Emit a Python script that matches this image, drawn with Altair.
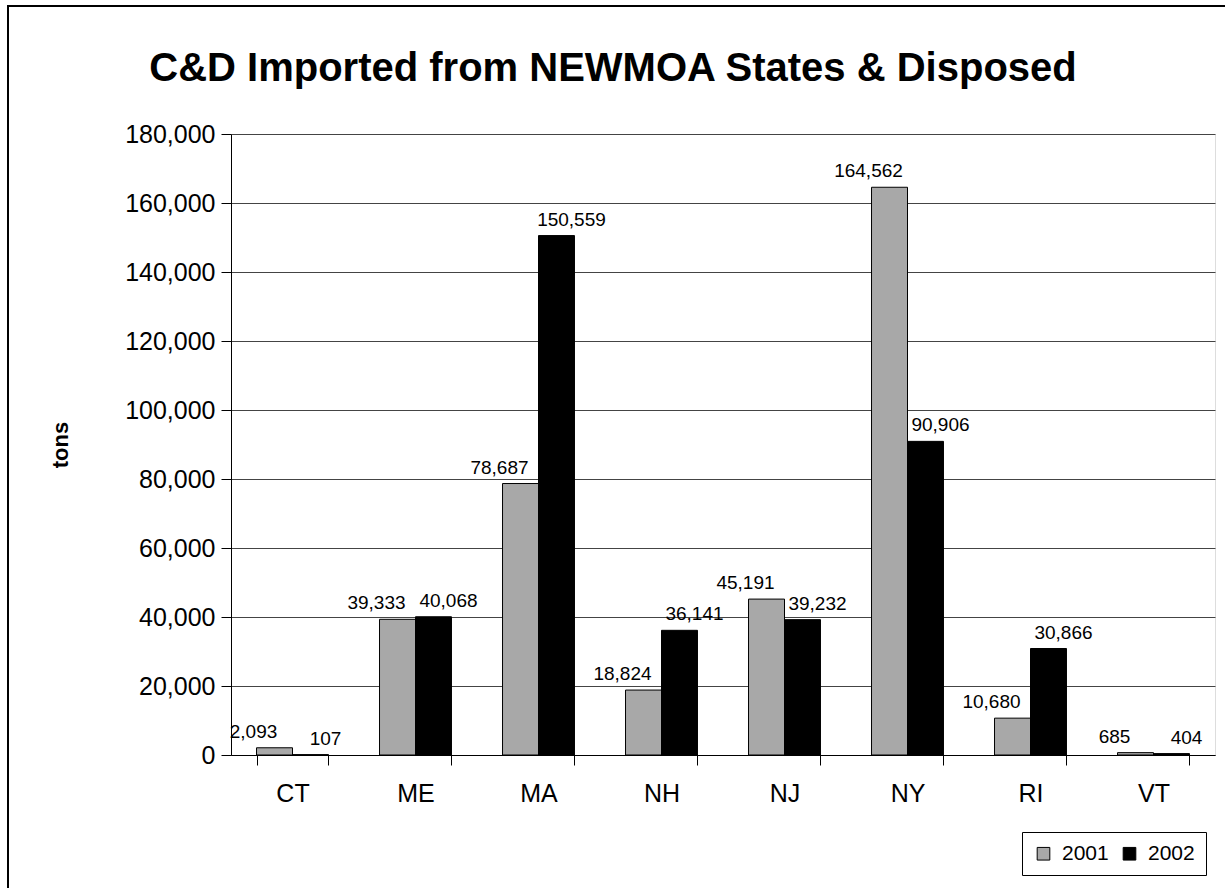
import altair as alt
import pandas as pd

# Construction & demolition debris imported from NEWMOA states and disposed (tons)
states = ["CT", "ME", "MA", "NH", "NJ", "NY", "RI", "VT"]
tons_2001 = [2093, 39333, 78687, 18824, 45191, 164562, 10680, 685]
tons_2002 = [107, 40068, 150559, 36141, 39232, 90906, 30866, 404]
years = ["2001", "2002"]
y_ticks = [0, 20000, 40000, 60000, 80000, 100000, 120000, 140000, 160000, 180000]

rows = []
for s, a, b in zip(states, tons_2001, tons_2002):
    rows.append({"state": s, "year": "2001", "tons": a})
    rows.append({"state": s, "year": "2002", "tons": b})
df = pd.DataFrame(rows)

FONT = "Liberation Sans"
W, H = 984, 621

x_enc = alt.X(
    "state:N",
    sort=states,
    scale=alt.Scale(paddingInner=0.415, paddingOuter=0.2075),
    axis=alt.Axis(
        title=None, labelAngle=0, labelFont=FONT, labelFontSize=25,
        labelColor="black", labelPadding=16, tickBand="extent", tickSize=10,
        tickColor="black", domainColor="black", grid=False,
    ),
)
xo_enc = alt.XOffset("year:N", sort=years, scale=alt.Scale(paddingInner=0, paddingOuter=0))
y_enc = alt.Y(
    "tons:Q",
    scale=alt.Scale(domain=[0, 180000], nice=False),
    axis=alt.Axis(
        title="tons", values=y_ticks, format=",d", labelFont=FONT,
        labelFontSize=25, labelColor="black", labelPadding=6, tickSize=10,
        tickColor="black", domainColor="black", grid=True, gridColor="#444444",
        titleFont=FONT, titleFontSize=22, titleFontWeight="bold",
        titleColor="black", titleX=-171, titleBaseline="middle",
    ),
)
color_enc = alt.Color(
    "year:N",
    scale=alt.Scale(domain=years, range=["#a8a8a8", "#000000"]),
    legend=alt.Legend(
        title=None, orient="none", legendX=791, legendY=698,
        direction="horizontal", symbolType="square", symbolSize=160,
        symbolStrokeColor="black", symbolStrokeWidth=1,
        labelFont=FONT, labelFontSize=21, labelColor="black", labelOffset=8,
        columnPadding=10, padding=11, strokeColor="black", fillColor="white",
    ),
)

# outer chart frame (top and left edges fall inside the page)
frame = alt.Chart(pd.DataFrame({"k": [0]})).mark_rect(
    fill="transparent", stroke="black", strokeWidth=2
).encode(
    x=alt.value(-223), x2=alt.value(1100), y=alt.value(-128), y2=alt.value(900)
)

bars = alt.Chart(df).mark_bar(stroke="black", strokeWidth=1).encode(
    x=x_enc, xOffset=xo_enc, y=y_enc, color=color_enc
)

label_style = dict(font=FONT, fontSize=19, color="black", baseline="bottom", dy=-6)
labels_2001 = alt.Chart(df).transform_filter(alt.datum.year == "2001").mark_text(
    dx=-21, **label_style
).encode(x=x_enc, xOffset=xo_enc, y=y_enc, text=alt.Text("tons:Q", format=","))
labels_2002 = alt.Chart(df).transform_filter(alt.datum.year == "2002").mark_text(
    dx=15, **label_style
).encode(x=x_enc, xOffset=xo_enc, y=y_enc, text=alt.Text("tons:Q", format=","))

chart = alt.layer(frame, bars, labels_2001, labels_2002).properties(
    width=W,
    height=H,
    title=alt.TitleParams(
        "C&D Imported from NEWMOA States & Disposed",
        font=FONT, fontSize=40, fontWeight="bold", color="black",
        anchor="middle", frame="group", baseline="bottom", offset=0,
        dx=-110, dy=124,
    ),
    autosize=alt.AutoSizeParams(type="none"),
    padding={"left": 231, "top": 134, "right": 10, "bottom": 133},
).configure_view(stroke="#888888", strokeWidth=1.5).configure(background="white")

chart.save("out.html", embed_options={"renderer": "svg", "actions": False})
